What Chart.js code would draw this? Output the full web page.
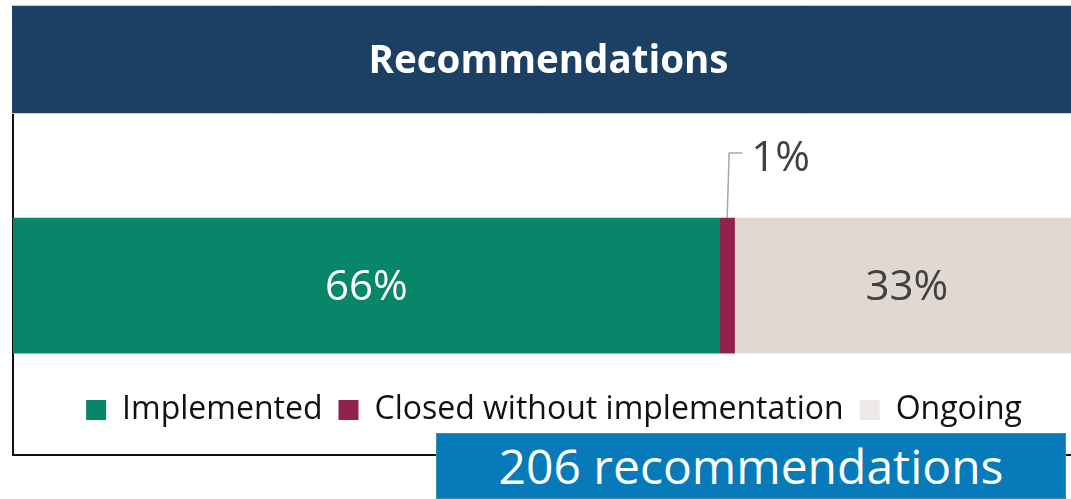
<!DOCTYPE html>
<html lang="en">
<head>
  <meta charset="UTF-8">
  <title>Recommendations</title>
  <script src="https://cdn.jsdelivr.net/npm/chart.js"></script>
  <style>
    html, body { margin: 0; padding: 0; background: #fff; overflow: hidden; }
    #wrap { position: relative; width: 1071px; height: 499px; }
    #chart { position: absolute; left: 0; top: 0; }
    #totalBox {
      position: absolute; left: 436px; top: 433px; width: 630px; height: 66px;
      background: #077bba; border: 1px solid #3a8f9f; box-sizing: border-box;
      color: #fff; font-family: "Open Sans", sans-serif; font-size: 48px;
      line-height: 64px; text-align: center;
    }
  </style>
</head>
<body>
  <div id="wrap">
    <canvas id="chart" width="1071" height="499"></canvas>
    <div id="totalBox">206 recommendations</div>
  </div>

  <script>
    // data (segment widths in % of the visible bar)
    const categories = ['Recommendations'];
    const seriesNames = ['Implemented', 'Closed without implementation', 'Ongoing'];
    const implemented = [66.8];
    const closedWithout = [1.4];
    const ongoing = [31.8];
    const segmentLabels = ['66%', '1%', '33%'];
    const totalText = '206 recommendations';

    const colors = ['#07866a', '#93214e', '#e1d9d1'];
    const legendColors = ['#07866a', '#93214e', '#eee9e5'];

    document.getElementById('totalBox').textContent = totalText;

    // navy header band + frame lines
    const framePlugin = {
      id: 'frame',
      afterLayout(chart) {
        // title and legend sit a bit right of the plot centre in the original
        chart.titleBlock.left += 13;
        chart.legend.left += 24;
      },
      beforeDraw(chart) {
        const ctx = chart.ctx;
        ctx.save();
        ctx.fillStyle = '#1c4063';
        ctx.fillRect(12, 5, 1059, 109);
        ctx.strokeStyle = '#c8ced6';
        ctx.lineWidth = 1;
        ctx.beginPath();
        ctx.moveTo(12, 5.5); ctx.lineTo(1071, 5.5);
        ctx.moveTo(12, 113.5); ctx.lineTo(1071, 113.5);
        ctx.stroke();
        ctx.strokeStyle = '#111';
        ctx.lineWidth = 2;
        ctx.beginPath();
        ctx.moveTo(13, 114); ctx.lineTo(13, 455);
        ctx.lineTo(1071, 455);
        ctx.stroke();
        ctx.restore();
      }
    };

    // percentage labels on the segments
    const labelPlugin = {
      id: 'segLabels',
      afterDatasetsDraw(chart) {
        const ctx = chart.ctx;
        ctx.save();
        ctx.font = '42px "Open Sans"';
        ctx.textBaseline = 'middle';
        chart.data.datasets.forEach((ds, i) => {
          const el = chart.getDatasetMeta(i).data[0];
          const left = Math.min(el.x, el.base);
          const right = Math.max(el.x, el.base);
          const cx = (left + right) / 2;
          const top = el.y - el.height / 2;
          if (i === 1) {
            // small segment: label above with leader line
            ctx.strokeStyle = '#a6a6a6';
            ctx.lineWidth = 1.5;
            ctx.beginPath();
            ctx.moveTo(cx, top);
            ctx.lineTo(cx + 2, top - 65);
            ctx.lineTo(cx + 15, top - 65);
            ctx.stroke();
            ctx.fillStyle = '#404040';
            ctx.textAlign = 'left';
            ctx.fillText(segmentLabels[i], cx + 24, top - 59);
          } else {
            ctx.fillStyle = i === 0 ? '#ffffff' : '#404040';
            ctx.textAlign = 'center';
            ctx.fillText(segmentLabels[i], cx + (i === 2 ? 4 : 0), el.y + 2);
          }
        });
        ctx.restore();
      }
    };

    const seriesData = [implemented, closedWithout, ongoing];

    new Chart(document.getElementById('chart'), {
      type: 'bar',
      data: {
        labels: categories,
        datasets: seriesNames.map((name, i) => ({
          label: name,
          data: seriesData[i],
          backgroundColor: colors[i],
          borderWidth: 0,
          barThickness: 135
        }))
      },
      options: {
        indexAxis: 'y',
        responsive: false,
        animation: false,
        layout: { padding: { left: 13, right: 0, top: 0, bottom: 63 } },
        scales: {
          x: { stacked: true, min: 0, max: 100, display: false, grid: { display: false } },
          y: { stacked: true, display: false, grid: { display: false } }
        },
        plugins: {
          tooltip: { enabled: false },
          title: {
            display: true,
            text: categories[0],
            color: '#ffffff',
            font: { family: '"Open Sans"', size: 38.5, weight: 'bold' },
            padding: { top: 39, bottom: 108 }
          },
          legend: {
            position: 'bottom',
            labels: {
              boxWidth: 20,
              boxHeight: 20,
              padding: 16,
              color: '#111111',
              font: { family: '"Open Sans"', size: 32 },
              generateLabels: (chart) => seriesNames.map((name, i) => ({
                text: name,
                fillStyle: legendColors[i],
                strokeStyle: legendColors[i],
                lineWidth: 0,
                datasetIndex: i,
                fontColor: '#111111'
              }))
            }
          }
        }
      },
      plugins: [framePlugin, labelPlugin]
    });
  </script>
</body>
</html>
